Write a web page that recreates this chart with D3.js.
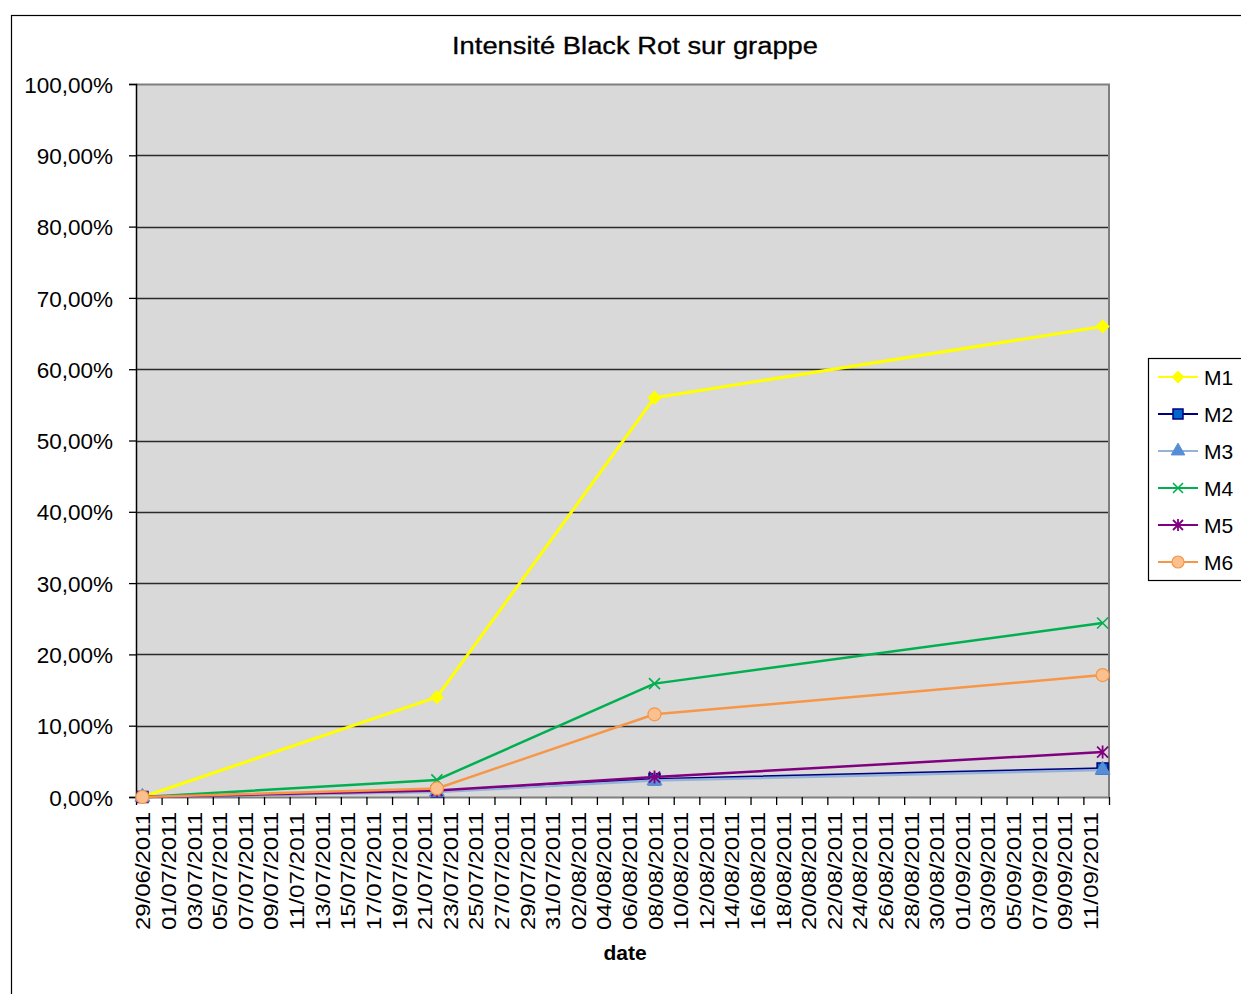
<!DOCTYPE html>
<html>
<head>
<meta charset="utf-8">
<script src="https://cdn.jsdelivr.net/npm/d3@7"></script>
<style>
  html, body { margin: 0; padding: 0; background: #fff; }
  svg { display: block; font-family: "Liberation Sans", Arial, sans-serif; }
</style>
</head>
<body>
<svg id="chart" width="1241" height="994"></svg>
<script>
// Observation dates and black-rot intensity (%) per plot
const dates = ["29/06/2011", "22/07/2011", "08/08/2011", "12/09/2011"];
const seriesNames = ["M1", "M2", "M3", "M4", "M5", "M6"];
const M1 = [0, 14.0, 56.0, 66.0];
const M2 = [0, 0.8, 2.5, 4.0];
const M3 = [0, 0.7, 2.3, 3.8];
const M4 = [0, 2.4, 15.9, 24.4];
const M5 = [0, 0.9, 2.8, 6.3];
const M6 = [0, 1.2, 11.6, 17.1];
const axisStart = "29/06/2011";
const axisEnd = "13/09/2011";
const yTicks = [0, 10, 20, 30, 40, 50, 60, 70, 80, 90, 100];

const styles = {
  M1: { line: "#ffff00", marker: "diamond", fill: "#ffff00", stroke: "#ffff00" },
  M2: { line: "#000080", marker: "square", fill: "#0066cc", stroke: "#000080" },
  M3: { line: "#95b3d7", marker: "triangle", fill: "#558ed5", stroke: "#558ed5" },
  M4: { line: "#00b050", marker: "x", fill: "none", stroke: "#00b050" },
  M5: { line: "#800080", marker: "star", fill: "none", stroke: "#800080" },
  M6: { line: "#f79646", marker: "circle", fill: "#fac090", stroke: "#f79646" }
};
const values = { M1, M2, M3, M4, M5, M6 };

const parse = d3.timeParse("%d/%m/%Y");
const fmtDate = d3.timeFormat("%d/%m/%Y");
const fr = d3.formatLocale({ decimal: ",", thousands: " ", grouping: [3], currency: ["", " €"] });
const fmtPct = fr.format(".2%");

const svg = d3.select("#chart");
const W = 1241, H = 994;
const plot = { left: 136, right: 1109, top: 84, bottom: 797 };

// outer chart frame
svg.append("rect").attr("x", 11.5).attr("y", 15.5).attr("width", W).attr("height", H)
  .attr("fill", "#fff").attr("stroke", "#000").attr("stroke-width", 1.2);

// title
svg.append("text").attr("x", 635).attr("y", 54).attr("text-anchor", "middle")
  .attr("font-size", 23).attr("fill", "#000").attr("stroke", "#000").attr("stroke-width", 0.3)
  .attr("textLength", 366).attr("lengthAdjust", "spacingAndGlyphs")
  .text("Intensité Black Rot sur grappe");

const x = d3.scaleTime().domain([parse(axisStart), parse(axisEnd)]).range([plot.left, plot.right]);
const y = d3.scaleLinear().domain([0, 1]).range([plot.bottom, plot.top]);
const midday = d => d3.timeHour.offset(d, 12);

// plot background
svg.append("rect").attr("x", plot.left).attr("y", plot.top)
  .attr("width", plot.right - plot.left).attr("height", plot.bottom - plot.top)
  .attr("fill", "#d9d9d9");

// horizontal gridlines
svg.append("g").selectAll("line").data(yTicks.filter(t => t > 0 && t < 100)).join("line")
  .attr("x1", plot.left).attr("x2", plot.right)
  .attr("y1", d => Math.round(y(d / 100)) + 0.5).attr("y2", d => Math.round(y(d / 100)) + 0.5)
  .attr("stroke", "#2b2b2b").attr("stroke-width", 1.3);

// plot border (top/right)
svg.append("path")
  .attr("d", `M${plot.left},${plot.top + 0.5}H${plot.right}V${plot.bottom}`)
  .attr("fill", "none").attr("stroke", "#7f7f7f").attr("stroke-width", 2);

// y axis
const yAxis = svg.append("g").attr("transform", `translate(${plot.left},0)`)
  .call(d3.axisLeft(y).tickValues(yTicks.map(t => t / 100)).tickFormat(fmtPct).tickSize(7).tickPadding(16));
yAxis.select(".domain").attr("stroke", "#000").attr("stroke-width", 1.5);
yAxis.selectAll(".tick line").attr("stroke", "#000").attr("stroke-width", 1.3);
yAxis.selectAll(".tick text").attr("font-size", 22.5).attr("fill", "#000")
  .attr("font-family", "'Liberation Sans', Arial, sans-serif")
  .attr("dy", "0.36em");

// x axis: tick marks at every second day boundary
const boundaryTicks = d3.timeDay.range(parse(axisStart), d3.timeDay.offset(parse(axisEnd), 1), 2);
const xTicks = svg.append("g").attr("transform", `translate(0,${plot.bottom})`)
  .call(d3.axisBottom(x).tickValues(boundaryTicks).tickFormat("").tickSize(8).tickSizeOuter(0));
xTicks.select(".domain").attr("stroke", "#7f7f7f").attr("stroke-width", 2);
xTicks.selectAll(".tick line").attr("stroke", "#000").attr("stroke-width", 1.3);

// x labels centered on their day
const labelDays = d3.timeDay.range(parse(axisStart), parse("12/09/2011"), 2);
const xLabels = svg.append("g").attr("transform", `translate(0,${plot.bottom})`)
  .call(d3.axisBottom(x).tickValues(labelDays.map(midday)).tickFormat(fmtDate).tickSize(0));
xLabels.select(".domain").remove();
xLabels.selectAll(".tick text")
  .attr("font-size", 21).attr("fill", "#000")
  .attr("font-family", "'Liberation Sans', Arial, sans-serif")
  .attr("text-anchor", "end")
  .attr("transform", "rotate(-90)")
  .attr("x", -15).attr("y", 0).attr("dy", "0.36em")
  .attr("textLength", 118).attr("lengthAdjust", "spacingAndGlyphs");

// axis title
svg.append("text").attr("x", 625).attr("y", 960).attr("text-anchor", "middle")
  .attr("font-size", 21).attr("font-weight", "bold").attr("fill", "#000").text("date");

// marker drawing
function drawMarker(g, type, st, size) {
  const s = size;
  if (type === "diamond") {
    const h = s * 0.6;
    g.append("path").attr("d", `M0,${-h}L${h},0L0,${h}L${-h},0Z`)
      .attr("fill", st.fill).attr("stroke", st.stroke).attr("stroke-linejoin", "round");
  } else if (type === "square") {
    g.append("rect").attr("x", -s / 2).attr("y", -s / 2).attr("width", s).attr("height", s)
      .attr("fill", st.fill).attr("stroke", st.stroke).attr("stroke-width", 1.5);
  } else if (type === "triangle") {
    g.append("path").attr("d", d3.symbol(d3.symbolTriangle, s * s * 0.8)())
      .attr("fill", st.fill).attr("stroke", st.stroke);
  } else if (type === "x") {
    const h = s / 2;
    g.append("path").attr("d", `M${-h},${-h}L${h},${h}M${-h},${h}L${h},${-h}`)
      .attr("stroke", st.stroke).attr("stroke-width", 1.6).attr("fill", "none");
  } else if (type === "star") {
    const h = s / 2;
    g.append("path").attr("d", `M${-h},${-h}L${h},${h}M${-h},${h}L${h},${-h}M0,${-h - 1}V${h + 1}`)
      .attr("stroke", st.stroke).attr("stroke-width", 1.8).attr("fill", "none");
  } else if (type === "circle") {
    g.append("circle").attr("r", s / 2).attr("fill", st.fill).attr("stroke", st.stroke).attr("stroke-width", 1.2);
  }
}

const line = d3.line().x(d => x(midday(d.date))).y(d => y(d.v / 100));

// series in legend order, later series painted over earlier ones
seriesNames.forEach(name => {
  const st = styles[name];
  const pts = dates.map((d, i) => ({ date: parse(d), v: values[name][i] }));
  svg.append("path").datum(pts).attr("d", line)
    .attr("fill", "none").attr("stroke", st.line).attr("stroke-width", name === "M1" ? 3 : 2.5)
    .attr("stroke-linejoin", "round");
  pts.forEach(p => {
    const g = svg.append("g").attr("transform", `translate(${x(midday(p.date))},${y(p.v / 100)})`);
    drawMarker(g, st.marker, st, name === "M6" ? 13 : 11);
  });
});

// legend
const lg = svg.append("g");
lg.append("rect").attr("x", 1148.5).attr("y", 358.5).attr("width", 100).attr("height", 222)
  .attr("fill", "#fff").attr("stroke", "#000").attr("stroke-width", 1.2);
seriesNames.forEach((name, i) => {
  const st = styles[name];
  const cy = 377 + i * 37;
  lg.append("line").attr("x1", 1158).attr("x2", 1198).attr("y1", cy).attr("y2", cy)
    .attr("stroke", st.line).attr("stroke-width", 2.2);
  const g = lg.append("g").attr("transform", `translate(1178,${cy})`);
  drawMarker(g, st.marker, st, name === "M6" ? 12 : 10);
  lg.append("text").attr("x", 1204).attr("y", cy).attr("dy", "0.36em")
    .attr("font-size", 21).attr("fill", "#000").text(name);
});
</script>
</body>
</html>
